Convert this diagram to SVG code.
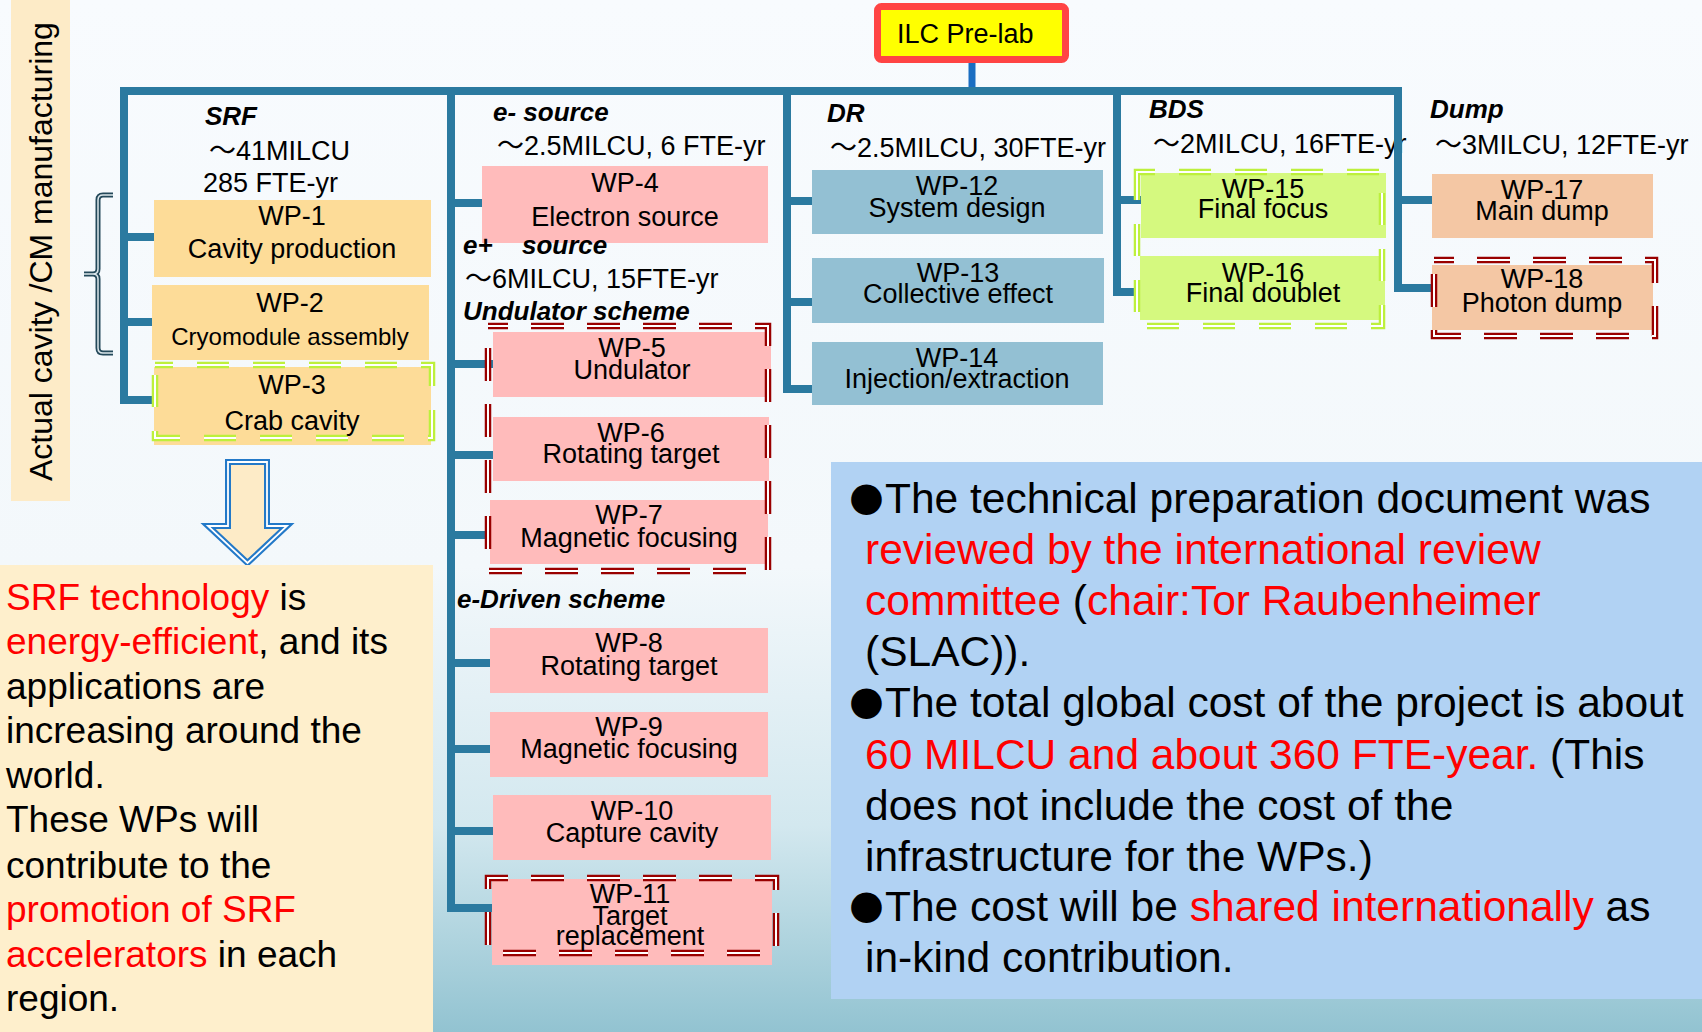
<svg xmlns="http://www.w3.org/2000/svg" width="1702" height="1032" viewBox="0 0 1702 1032">
  <defs>
    <linearGradient id="bg" x1="0" y1="0" x2="0" y2="1">
      <stop offset="0" stop-color="#F8FBFE"/>
      <stop offset="0.55" stop-color="#F3F8FB"/>
      <stop offset="0.8" stop-color="#D3E8EF"/>
      <stop offset="1" stop-color="#92C3D1"/>
    </linearGradient>
    <style>
      .conn{fill:none;stroke:#2B7AA0;stroke-width:8;stroke-linecap:butt;stroke-linejoin:miter}
      .lbl{font-family:"Liberation Sans","Noto Sans CJK JP",sans-serif;font-size:27px;fill:#000}
      .side{font-family:"Liberation Sans",Arial,sans-serif;font-size:32px;fill:#000}
      .hdr{font-family:"Liberation Sans",Arial,sans-serif;font-size:26px;font-weight:bold;font-style:italic;fill:#000}
      .wp text{font-family:"Liberation Sans",Arial,sans-serif;font-size:27px;fill:#000;text-anchor:middle}
      .wp text.small{font-size:24px}
      .orange{fill:#FDDC98}
      .pink{fill:#FFBBBB}
      .teal{fill:#93C0D3}
      .lime{fill:#D5F97F}
      .peach{fill:#F4C7A4}
      .dr-o{fill:none;stroke:#990000;stroke-width:6.5;stroke-dasharray:33 23}
      .dr-i{fill:none;stroke:#FFFFFF;stroke-width:2;stroke-dasharray:33 23}
      .dg-o{fill:none;stroke:#BDF03C;stroke-width:6.5;stroke-dasharray:32 24}
      .dg-i{fill:none;stroke:#FFFFFF;stroke-width:2;stroke-dasharray:32 24}
      .note{font-family:"Liberation Sans",Arial,sans-serif;fill:#000}
      .red{fill:#FF0000}
      .bul{font-family:"DejaVu Sans",sans-serif;font-size:40px;fill:#000}
    </style>
  </defs>

  <!-- slide background -->
  <rect x="0" y="0" width="1702" height="1032" fill="url(#bg)"/>

  <!-- vertical side strip -->
  <g id="side-strip">
    <rect x="11" y="0" width="59" height="501" fill="#FDEBC7"/>
    <text class="side" transform="translate(52,481) rotate(-90)">Actual cavity /CM manufacturing</text>
  </g>

  <!-- brace grouping WP-1 and WP-2 -->
  <g id="brace">
    <path d="M113,195 H103 Q98,195 98,200 V269 Q98,274 93,274 H84 M93,274 Q98,274 98,279 V348 Q98,353 103,353 H113" fill="none" stroke="#24495A" stroke-width="5"/>
    <path d="M113,195 H103 Q98,195 98,200 V269 Q98,274 93,274 H84 M93,274 Q98,274 98,279 V348 Q98,353 103,353 H113" fill="none" stroke="#DCE7EC" stroke-width="1.5"/>
  </g>

  <!-- BDS budget sits under the Dump branch line -->
  <g id="bds-budget">
    <text class="lbl" x="1153" y="153">～2MILCU, 16FTE-yr</text>
  </g>

  <!-- tree connectors -->
  <g id="connectors">
    <path d="M972,60 V90" fill="none" stroke="#1B6EC2" stroke-width="7"/>
    <path class="conn" d="M124,91 H1402"/>
    <!-- SRF -->
    <path class="conn" d="M124,87 V400 H154 M124,237 H154 M124,322 H152"/>
    <!-- sources -->
    <path class="conn" d="M451,87 V908 H492 M451,203 H482 M451,364 H493 M451,455 H495 M451,535 H490 M451,663 H493 M451,749 H495 M451,831 H494"/>
    <!-- DR -->
    <path class="conn" d="M787,87 V389 H812 M787,201 H812 M787,302 H815"/>
    <!-- BDS -->
    <path class="conn" d="M1117,87 V292 H1141 M1117,200 H1141"/>
    <!-- Dump -->
    <path class="conn" d="M1398,87 V288 H1433 M1398,200 H1435"/>
  </g>

  <!-- top node -->
  <g id="ilc-prelab">
    <rect x="877.5" y="6.5" width="188" height="53" rx="4" fill="#FFFF00" stroke="#FF4444" stroke-width="7"/>
    <text class="lbl" x="897" y="43">ILC Pre-lab</text>
  </g>

  <!-- SRF work packages -->
  <g id="wp1" class="wp">
    <rect class="orange" x="154" y="200" width="277" height="77"/>
    <text x="292" y="225">WP-1</text>
    <text x="292" y="258">Cavity production</text>
  </g>
  <g id="wp2" class="wp">
    <rect class="orange" x="152" y="285" width="277" height="75"/>
    <text x="290" y="312">WP-2</text>
    <text class="small" x="290" y="345">Cryomodule assembly</text>
  </g>
  <g id="wp3" class="wp">
    <rect class="orange" x="154" y="367" width="277" height="78"/>
    <rect class="dg-o" x="155" y="365" width="277" height="73" stroke-dashoffset="14"/>
    <rect class="dg-i" x="155" y="365" width="277" height="73" stroke-dashoffset="14"/>
    <text x="292" y="394">WP-3</text>
    <text x="292" y="430">Crab cavity</text>
  </g>

  <!-- source work packages -->
  <g id="wp4" class="wp">
    <rect class="pink" x="482" y="166" width="286" height="77"/>
    <text x="625" y="192">WP-4</text>
    <text x="625" y="226">Electron source</text>
  </g>
  <g id="wp5" class="wp">
    <rect class="pink" x="493" y="332" width="278" height="65"/>
    <text x="632" y="357">WP-5</text>
    <text x="632" y="379">Undulator</text>
  </g>
  <g id="wp6" class="wp">
    <rect class="pink" x="493" y="417" width="276" height="64"/>
    <text x="631" y="442">WP-6</text>
    <text x="631" y="463">Rotating target</text>
  </g>
  <g id="wp7" class="wp">
    <rect class="pink" x="490" y="500" width="278" height="64"/>
    <text x="629" y="524">WP-7</text>
    <text x="629" y="547">Magnetic focusing</text>
  </g>
  <g id="undulator-frame">
    <rect class="dr-o" x="488" y="326" width="280" height="245" stroke-dashoffset="13"/>
    <rect class="dr-i" x="488" y="326" width="280" height="245" stroke-dashoffset="13"/>
  </g>
  <g id="wp8" class="wp">
    <rect class="pink" x="490" y="628" width="278" height="65"/>
    <text x="629" y="652">WP-8</text>
    <text x="629" y="675">Rotating target</text>
  </g>
  <g id="wp9" class="wp">
    <rect class="pink" x="490" y="712" width="278" height="65"/>
    <text x="629" y="736">WP-9</text>
    <text x="629" y="758">Magnetic focusing</text>
  </g>
  <g id="wp10" class="wp">
    <rect class="pink" x="493" y="795" width="278" height="65"/>
    <text x="632" y="820">WP-10</text>
    <text x="632" y="842">Capture cavity</text>
  </g>
  <g id="wp11" class="wp">
    <rect class="pink" x="492" y="879" width="280" height="86"/>
    <rect class="dr-o" x="488" y="878" width="288" height="75" stroke-dashoffset="13"/>
    <rect class="dr-i" x="488" y="878" width="288" height="75" stroke-dashoffset="13"/>
    <text x="630" y="903">WP-11</text>
    <text x="630" y="925">Target</text>
    <text x="630" y="945">replacement</text>
  </g>

  <!-- DR work packages -->
  <g id="wp12" class="wp">
    <rect class="teal" x="812" y="170" width="291" height="64"/>
    <text x="957" y="195">WP-12</text>
    <text x="957" y="217">System design</text>
  </g>
  <g id="wp13" class="wp">
    <rect class="teal" x="812" y="258" width="292" height="65"/>
    <text x="958" y="282">WP-13</text>
    <text x="958" y="303">Collective effect</text>
  </g>
  <g id="wp14" class="wp">
    <rect class="teal" x="812" y="342" width="291" height="63"/>
    <text x="957" y="367">WP-14</text>
    <text x="957" y="388">Injection/extraction</text>
  </g>

  <!-- BDS work packages -->
  <g id="wp15" class="wp">
    <rect class="lime" x="1141" y="173" width="245" height="65"/>
    <text x="1263" y="198">WP-15</text>
    <text x="1263" y="218">Final focus</text>
  </g>
  <g id="wp16" class="wp">
    <rect class="lime" x="1140" y="256" width="245" height="64"/>
    <text x="1263" y="282">WP-16</text>
    <text x="1263" y="302">Final doublet</text>
  </g>
  <g id="bds-frame">
    <rect class="dg-o" x="1137" y="172" width="245" height="154" stroke-dashoffset="14"/>
    <rect class="dg-i" x="1137" y="172" width="245" height="154" stroke-dashoffset="14"/>
  </g>

  <!-- Dump work packages -->
  <g id="wp17" class="wp">
    <rect class="peach" x="1432" y="174" width="221" height="64"/>
    <text x="1542" y="199">WP-17</text>
    <text x="1542" y="220">Main dump</text>
  </g>
  <g id="wp18" class="wp">
    <rect class="peach" x="1432" y="265" width="221" height="65"/>
    <rect class="dr-o" x="1434" y="260" width="221" height="76" stroke-dashoffset="13"/>
    <rect class="dr-i" x="1434" y="260" width="221" height="76" stroke-dashoffset="13"/>
    <text x="1542" y="288">WP-18</text>
    <text x="1542" y="312">Photon dump</text>
  </g>

  <!-- section headers and budgets -->
  <g id="headers">
    <text class="hdr" x="205" y="125">SRF</text>
    <text class="lbl" x="209" y="160">～41MILCU</text>
    <text class="lbl" x="203" y="192">285 FTE-yr</text>

    <text class="hdr" x="493" y="121">e- source</text>
    <text class="lbl" x="497" y="155">～2.5MILCU, 6 FTE-yr</text>
    <text class="hdr" x="463" y="254">e+<tspan x="522">source</tspan></text>
    <text class="lbl" x="465" y="288">～6MILCU, 15FTE-yr</text>
    <text class="hdr" x="463" y="320">Undulator scheme</text>
    <text class="hdr" x="457" y="608">e-Driven scheme</text>

    <text class="hdr" x="827" y="122">DR</text>
    <text class="lbl" x="830" y="157">～2.5MILCU, 30FTE-yr</text>

    <text class="hdr" x="1149" y="118">BDS</text>

    <text class="hdr" x="1430" y="118">Dump</text>
    <text class="lbl" x="1435" y="154">～3MILCU, 12FTE-yr</text>
  </g>

  <!-- hollow down arrow -->
  <g id="down-arrow">
    <path d="M228,462 H267 V526 H287 L247.5,563 L208,526 H228 Z" fill="#FDEBC7" stroke="#2379C8" stroke-width="6" stroke-linejoin="miter"/>
    <path d="M228,462 H267 V526 H287 L247.5,563 L208,526 H228 Z" fill="none" stroke="#FFFFFF" stroke-width="1.8" stroke-linejoin="miter"/>
  </g>

  <!-- SRF note panel -->
  <g id="srf-note" class="note" font-size="37">
    <rect x="0" y="565" width="433" height="467" fill="#FEEFCC"/>
    <text x="6" y="610"><tspan class="red">SRF technology</tspan> is</text>
    <text x="6" y="654"><tspan class="red">energy-efficient</tspan>, and its</text>
    <text x="6" y="699">applications are</text>
    <text x="6" y="743">increasing around the</text>
    <text x="6" y="788">world.</text>
    <text x="6" y="832">These WPs will</text>
    <text x="6" y="878">contribute to the</text>
    <text x="6" y="922" class="red">promotion of SRF</text>
    <text x="6" y="967"><tspan class="red">accelerators</tspan> in each</text>
    <text x="6" y="1011">region.</text>
  </g>

  <!-- summary panel -->
  <g id="summary" class="note" font-size="42.5">
    <rect x="831" y="462" width="871" height="537" fill="#B1D2F3"/>
    <text class="bul" x="849" y="510">●</text>
    <text x="885" y="513">The technical preparation document was</text>
    <text x="865" y="564" class="red">reviewed by the international review</text>
    <text x="865" y="615"><tspan class="red">committee</tspan> (<tspan class="red">chair:Tor Raubenheimer</tspan></text>
    <text x="865" y="666">(SLAC)).</text>
    <text class="bul" x="849" y="714">●</text>
    <text x="885" y="717">The total global cost of the project is about</text>
    <text x="865" y="769"><tspan class="red">60 MILCU and about 360 FTE-year.</tspan> (This</text>
    <text x="865" y="820">does not include the cost of the</text>
    <text x="865" y="871">infrastructure for the WPs.)</text>
    <text class="bul" x="849" y="918">●</text>
    <text x="885" y="921">The cost will be <tspan class="red">shared internationally</tspan> as</text>
    <text x="865" y="972">in-kind contribution.</text>
  </g>
</svg>
